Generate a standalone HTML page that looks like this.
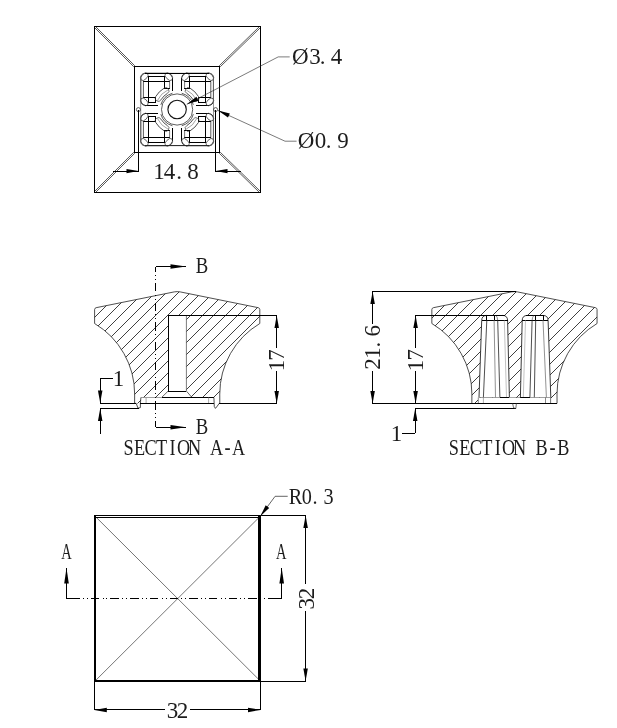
<!DOCTYPE html>
<html lang="en"><head><meta charset="utf-8"><title>Knob drawing</title>
<style>html,body{margin:0;padding:0;background:#fff;overflow:hidden}svg{display:block;will-change:transform}</style></head>
<body>
<svg width="617" height="728" viewBox="0 0 617 728" font-family="'Liberation Serif', serif" fill="#000">
<rect width="617" height="728" fill="#fff"/>
<g id="topview">
<rect x="94.5" y="26.5" width="166" height="166" fill="none" stroke="#000" stroke-width="1" shape-rendering="crispEdges"/>
<rect x="134.5" y="66.5" width="85" height="86" fill="none" stroke="#000" stroke-width="1" shape-rendering="crispEdges"/>
<line x1="96" y1="27" x2="134.8" y2="65.8" stroke="#111" stroke-width="0.7"/>
<line x1="95" y1="28" x2="133.8" y2="66.8" stroke="#111" stroke-width="0.7"/>
<line x1="259" y1="27" x2="219.2" y2="65.8" stroke="#111" stroke-width="0.7"/>
<line x1="260" y1="28" x2="220.2" y2="66.8" stroke="#111" stroke-width="0.7"/>
<line x1="96" y1="192" x2="134.8" y2="153.2" stroke="#111" stroke-width="0.7"/>
<line x1="95" y1="191" x2="133.8" y2="152.2" stroke="#111" stroke-width="0.7"/>
<line x1="259" y1="192" x2="219.2" y2="153.2" stroke="#111" stroke-width="0.7"/>
<line x1="260" y1="191" x2="220.2" y2="152.2" stroke="#111" stroke-width="0.7"/>
<g transform="translate(177.1,109.5) scale(1,1) translate(-177.1,-109.5)">
<path d="M172.3,77.6 A4.3,4.3 0 0 0 168,73.3 L145.1,73.3 A4.3,4.3 0 0 0 140.8,77.6 L140.8,101 A4.3,4.3 0 0 0 145.1,105.3" stroke="#222" stroke-width="0.85" fill="none"/>
<line x1="172.3" y1="77.6" x2="172.3" y2="90.8" stroke="#000" stroke-width="1.1" shape-rendering="crispEdges"/>
<line x1="145.1" y1="105.3" x2="157.8" y2="105.3" stroke="#000" stroke-width="1.1" shape-rendering="crispEdges"/>
<line x1="148.5" y1="76.4" x2="148.5" y2="102.4" stroke="#000" stroke-width="1.0" shape-rendering="crispEdges"/>
<line x1="148" y1="76.4" x2="165" y2="76.4" stroke="#000" stroke-width="1.0" shape-rendering="crispEdges"/>
<line x1="164.5" y1="76.4" x2="164.5" y2="88.3" stroke="#000" stroke-width="1.0" shape-rendering="crispEdges"/>
<line x1="164" y1="88.3" x2="170" y2="88.3" stroke="#000" stroke-width="1.0" shape-rendering="crispEdges"/>
<line x1="148" y1="102.4" x2="156" y2="102.4" stroke="#000" stroke-width="1.0" shape-rendering="crispEdges"/>
<line x1="155.5" y1="97.6" x2="155.5" y2="102.4" stroke="#000" stroke-width="1.0" shape-rendering="crispEdges"/>
<line x1="143" y1="81.4" x2="170" y2="81.4" stroke="#000" stroke-width="1.0" shape-rendering="crispEdges"/>
<line x1="143" y1="97.6" x2="156" y2="97.6" stroke="#000" stroke-width="1.0" shape-rendering="crispEdges"/>
<line x1="143.4" y1="81.4" x2="143.4" y2="97.6" stroke="#333" stroke-width="0.8"/>
<line x1="169.6" y1="81.4" x2="169.6" y2="88.3" stroke="#555" stroke-width="0.8"/>
<ellipse cx="144.3" cy="76.7" rx="4.6" ry="2.7" transform="rotate(-45 144.3 76.7)" fill="none" stroke="#333" stroke-width="0.7"/>
<ellipse cx="168.8" cy="76.7" rx="4.6" ry="2.7" transform="rotate(45 168.8 76.7)" fill="none" stroke="#333" stroke-width="0.7"/>
<ellipse cx="144.3" cy="101.9" rx="4.6" ry="2.7" transform="rotate(45 144.3 101.9)" fill="none" stroke="#333" stroke-width="0.7"/>
<path d="M155.67,96.62 A25.0,25.0 0 0 1 164.22,88.07" stroke="#222" stroke-width="0.8" fill="none"/>
<path d="M160.99,99.82 A18.8,18.8 0 0 1 167.42,93.39" stroke="#222" stroke-width="0.8" fill="none"/>
<path d="M157.52,100.37 A21.6,21.6 0 0 1 167.97,89.92" stroke="#666" stroke-width="0.6" fill="none"/>
<path d="M160.85,104.84 A16.9,16.9 0 0 1 172.44,93.25" stroke="#333" stroke-width="0.8" fill="none"/>
<path d="M155.67,96.62 A3.1,3.1 0 0 0 160.99,99.82" stroke="#333" stroke-width="0.7" fill="none"/>
<path d="M164.22,88.07 A3.1,3.1 0 0 1 167.42,93.39" stroke="#333" stroke-width="0.7" fill="none"/>
</g>
<g transform="translate(177.1,109.5) scale(-1,1) translate(-177.1,-109.5)">
<path d="M172.3,77.6 A4.3,4.3 0 0 0 168,73.3 L145.1,73.3 A4.3,4.3 0 0 0 140.8,77.6 L140.8,101 A4.3,4.3 0 0 0 145.1,105.3" stroke="#222" stroke-width="0.85" fill="none"/>
<line x1="172.3" y1="77.6" x2="172.3" y2="90.8" stroke="#000" stroke-width="1.1" shape-rendering="crispEdges"/>
<line x1="145.1" y1="105.3" x2="157.8" y2="105.3" stroke="#000" stroke-width="1.1" shape-rendering="crispEdges"/>
<line x1="148.5" y1="76.4" x2="148.5" y2="102.4" stroke="#000" stroke-width="1.0" shape-rendering="crispEdges"/>
<line x1="148" y1="76.4" x2="165" y2="76.4" stroke="#000" stroke-width="1.0" shape-rendering="crispEdges"/>
<line x1="164.5" y1="76.4" x2="164.5" y2="88.3" stroke="#000" stroke-width="1.0" shape-rendering="crispEdges"/>
<line x1="164" y1="88.3" x2="170" y2="88.3" stroke="#000" stroke-width="1.0" shape-rendering="crispEdges"/>
<line x1="148" y1="102.4" x2="156" y2="102.4" stroke="#000" stroke-width="1.0" shape-rendering="crispEdges"/>
<line x1="155.5" y1="97.6" x2="155.5" y2="102.4" stroke="#000" stroke-width="1.0" shape-rendering="crispEdges"/>
<line x1="143" y1="81.4" x2="170" y2="81.4" stroke="#000" stroke-width="1.0" shape-rendering="crispEdges"/>
<line x1="143" y1="97.6" x2="156" y2="97.6" stroke="#000" stroke-width="1.0" shape-rendering="crispEdges"/>
<line x1="143.4" y1="81.4" x2="143.4" y2="97.6" stroke="#333" stroke-width="0.8"/>
<line x1="169.6" y1="81.4" x2="169.6" y2="88.3" stroke="#555" stroke-width="0.8"/>
<ellipse cx="144.3" cy="76.7" rx="4.6" ry="2.7" transform="rotate(-45 144.3 76.7)" fill="none" stroke="#333" stroke-width="0.7"/>
<ellipse cx="168.8" cy="76.7" rx="4.6" ry="2.7" transform="rotate(45 168.8 76.7)" fill="none" stroke="#333" stroke-width="0.7"/>
<ellipse cx="144.3" cy="101.9" rx="4.6" ry="2.7" transform="rotate(45 144.3 101.9)" fill="none" stroke="#333" stroke-width="0.7"/>
<path d="M155.67,96.62 A25.0,25.0 0 0 1 164.22,88.07" stroke="#222" stroke-width="0.8" fill="none"/>
<path d="M160.99,99.82 A18.8,18.8 0 0 1 167.42,93.39" stroke="#222" stroke-width="0.8" fill="none"/>
<path d="M157.52,100.37 A21.6,21.6 0 0 1 167.97,89.92" stroke="#666" stroke-width="0.6" fill="none"/>
<path d="M160.85,104.84 A16.9,16.9 0 0 1 172.44,93.25" stroke="#333" stroke-width="0.8" fill="none"/>
<path d="M155.67,96.62 A3.1,3.1 0 0 0 160.99,99.82" stroke="#333" stroke-width="0.7" fill="none"/>
<path d="M164.22,88.07 A3.1,3.1 0 0 1 167.42,93.39" stroke="#333" stroke-width="0.7" fill="none"/>
</g>
<g transform="translate(177.1,109.5) scale(1,-1) translate(-177.1,-109.5)">
<path d="M172.3,77.6 A4.3,4.3 0 0 0 168,73.3 L145.1,73.3 A4.3,4.3 0 0 0 140.8,77.6 L140.8,101 A4.3,4.3 0 0 0 145.1,105.3" stroke="#222" stroke-width="0.85" fill="none"/>
<line x1="172.3" y1="77.6" x2="172.3" y2="90.8" stroke="#000" stroke-width="1.1" shape-rendering="crispEdges"/>
<line x1="145.1" y1="105.3" x2="157.8" y2="105.3" stroke="#000" stroke-width="1.1" shape-rendering="crispEdges"/>
<line x1="148.5" y1="76.4" x2="148.5" y2="102.4" stroke="#000" stroke-width="1.0" shape-rendering="crispEdges"/>
<line x1="148" y1="76.4" x2="165" y2="76.4" stroke="#000" stroke-width="1.0" shape-rendering="crispEdges"/>
<line x1="164.5" y1="76.4" x2="164.5" y2="88.3" stroke="#000" stroke-width="1.0" shape-rendering="crispEdges"/>
<line x1="164" y1="88.3" x2="170" y2="88.3" stroke="#000" stroke-width="1.0" shape-rendering="crispEdges"/>
<line x1="148" y1="102.4" x2="156" y2="102.4" stroke="#000" stroke-width="1.0" shape-rendering="crispEdges"/>
<line x1="155.5" y1="97.6" x2="155.5" y2="102.4" stroke="#000" stroke-width="1.0" shape-rendering="crispEdges"/>
<line x1="143" y1="81.4" x2="170" y2="81.4" stroke="#000" stroke-width="1.0" shape-rendering="crispEdges"/>
<line x1="143" y1="97.6" x2="156" y2="97.6" stroke="#000" stroke-width="1.0" shape-rendering="crispEdges"/>
<line x1="143.4" y1="81.4" x2="143.4" y2="97.6" stroke="#333" stroke-width="0.8"/>
<line x1="169.6" y1="81.4" x2="169.6" y2="88.3" stroke="#555" stroke-width="0.8"/>
<ellipse cx="144.3" cy="76.7" rx="4.6" ry="2.7" transform="rotate(-45 144.3 76.7)" fill="none" stroke="#333" stroke-width="0.7"/>
<ellipse cx="168.8" cy="76.7" rx="4.6" ry="2.7" transform="rotate(45 168.8 76.7)" fill="none" stroke="#333" stroke-width="0.7"/>
<ellipse cx="144.3" cy="101.9" rx="4.6" ry="2.7" transform="rotate(45 144.3 101.9)" fill="none" stroke="#333" stroke-width="0.7"/>
<path d="M155.67,96.62 A25.0,25.0 0 0 1 164.22,88.07" stroke="#222" stroke-width="0.8" fill="none"/>
<path d="M160.99,99.82 A18.8,18.8 0 0 1 167.42,93.39" stroke="#222" stroke-width="0.8" fill="none"/>
<path d="M157.52,100.37 A21.6,21.6 0 0 1 167.97,89.92" stroke="#666" stroke-width="0.6" fill="none"/>
<path d="M160.85,104.84 A16.9,16.9 0 0 1 172.44,93.25" stroke="#333" stroke-width="0.8" fill="none"/>
<path d="M155.67,96.62 A3.1,3.1 0 0 0 160.99,99.82" stroke="#333" stroke-width="0.7" fill="none"/>
<path d="M164.22,88.07 A3.1,3.1 0 0 1 167.42,93.39" stroke="#333" stroke-width="0.7" fill="none"/>
</g>
<g transform="translate(177.1,109.5) scale(-1,-1) translate(-177.1,-109.5)">
<path d="M172.3,77.6 A4.3,4.3 0 0 0 168,73.3 L145.1,73.3 A4.3,4.3 0 0 0 140.8,77.6 L140.8,101 A4.3,4.3 0 0 0 145.1,105.3" stroke="#222" stroke-width="0.85" fill="none"/>
<line x1="172.3" y1="77.6" x2="172.3" y2="90.8" stroke="#000" stroke-width="1.1" shape-rendering="crispEdges"/>
<line x1="145.1" y1="105.3" x2="157.8" y2="105.3" stroke="#000" stroke-width="1.1" shape-rendering="crispEdges"/>
<line x1="148.5" y1="76.4" x2="148.5" y2="102.4" stroke="#000" stroke-width="1.0" shape-rendering="crispEdges"/>
<line x1="148" y1="76.4" x2="165" y2="76.4" stroke="#000" stroke-width="1.0" shape-rendering="crispEdges"/>
<line x1="164.5" y1="76.4" x2="164.5" y2="88.3" stroke="#000" stroke-width="1.0" shape-rendering="crispEdges"/>
<line x1="164" y1="88.3" x2="170" y2="88.3" stroke="#000" stroke-width="1.0" shape-rendering="crispEdges"/>
<line x1="148" y1="102.4" x2="156" y2="102.4" stroke="#000" stroke-width="1.0" shape-rendering="crispEdges"/>
<line x1="155.5" y1="97.6" x2="155.5" y2="102.4" stroke="#000" stroke-width="1.0" shape-rendering="crispEdges"/>
<line x1="143" y1="81.4" x2="170" y2="81.4" stroke="#000" stroke-width="1.0" shape-rendering="crispEdges"/>
<line x1="143" y1="97.6" x2="156" y2="97.6" stroke="#000" stroke-width="1.0" shape-rendering="crispEdges"/>
<line x1="143.4" y1="81.4" x2="143.4" y2="97.6" stroke="#333" stroke-width="0.8"/>
<line x1="169.6" y1="81.4" x2="169.6" y2="88.3" stroke="#555" stroke-width="0.8"/>
<ellipse cx="144.3" cy="76.7" rx="4.6" ry="2.7" transform="rotate(-45 144.3 76.7)" fill="none" stroke="#333" stroke-width="0.7"/>
<ellipse cx="168.8" cy="76.7" rx="4.6" ry="2.7" transform="rotate(45 168.8 76.7)" fill="none" stroke="#333" stroke-width="0.7"/>
<ellipse cx="144.3" cy="101.9" rx="4.6" ry="2.7" transform="rotate(45 144.3 101.9)" fill="none" stroke="#333" stroke-width="0.7"/>
<path d="M155.67,96.62 A25.0,25.0 0 0 1 164.22,88.07" stroke="#222" stroke-width="0.8" fill="none"/>
<path d="M160.99,99.82 A18.8,18.8 0 0 1 167.42,93.39" stroke="#222" stroke-width="0.8" fill="none"/>
<path d="M157.52,100.37 A21.6,21.6 0 0 1 167.97,89.92" stroke="#666" stroke-width="0.6" fill="none"/>
<path d="M160.85,104.84 A16.9,16.9 0 0 1 172.44,93.25" stroke="#333" stroke-width="0.8" fill="none"/>
<path d="M155.67,96.62 A3.1,3.1 0 0 0 160.99,99.82" stroke="#333" stroke-width="0.7" fill="none"/>
<path d="M164.22,88.07 A3.1,3.1 0 0 1 167.42,93.39" stroke="#333" stroke-width="0.7" fill="none"/>
</g>
<rect x="140.7" y="73.3" width="72.8" height="72.4" rx="4.3" fill="none" stroke="#666" stroke-width="0.7"/>
<line x1="145" y1="73.3" x2="209.2" y2="73.3" stroke="#000" stroke-width="1.1" shape-rendering="crispEdges"/>
<line x1="145" y1="145.7" x2="209.2" y2="145.7" stroke="#222" stroke-width="0.9" shape-rendering="crispEdges"/>
<circle cx="177.1" cy="109.5" r="15.6" stroke="#333" stroke-width="0.8" fill="none"/>
<circle cx="177.1" cy="109.5" r="9.2" stroke="#111" stroke-width="1.1" fill="none"/>
<circle cx="138.4" cy="109.6" r="2" stroke="#222" stroke-width="0.7" fill="none"/>
<circle cx="215.6" cy="109.6" r="2" stroke="#222" stroke-width="0.7" fill="none"/>
<line x1="138.5" y1="110" x2="138.5" y2="171.6" stroke="#000" stroke-width="1.0" shape-rendering="crispEdges"/>
<line x1="215.5" y1="110" x2="215.5" y2="171.6" stroke="#000" stroke-width="1.0" shape-rendering="crispEdges"/>
<line x1="113.4" y1="171.1" x2="138.5" y2="171.1" stroke="#000" stroke-width="1.0" shape-rendering="crispEdges"/>
<polygon points="138.5,171.1 126.5,173.3 126.5,168.9" fill="#000"/>
<line x1="215.5" y1="171.1" x2="240.6" y2="171.1" stroke="#000" stroke-width="1.0" shape-rendering="crispEdges"/>
<polygon points="215.5,171.1 227.5,168.9 227.5,173.3" fill="#000"/>
<text transform="scale(1.0,1)" x="159 169.4 179.1 193.1" y="178.7" font-size="23" text-anchor="middle" fill="#1c1c1c">14.8</text>
<line x1="186.8" y1="104.3" x2="278.2" y2="56.9" stroke="#222" stroke-width="0.6"/>
<line x1="278.2" y1="56.9" x2="289.7" y2="56.9" stroke="#222" stroke-width="0.6"/>
<polygon points="186.8,104.3 196.44,96.82 198.47,100.73" fill="#000"/>
<text transform="scale(1.0,1)" x="300.4 315 322.5 336.5" y="64.4" font-size="23" text-anchor="middle" fill="#1c1c1c">Ø3.4</text>
<line x1="218" y1="110.5" x2="285" y2="141.2" stroke="#222" stroke-width="0.6"/>
<line x1="285" y1="141.2" x2="296.6" y2="141.2" stroke="#222" stroke-width="0.6"/>
<polygon points="218,110.5 229.83,113.5 227.99,117.5" fill="#000"/>
<text transform="scale(1.0,1)" x="306.1 320.5 328.5 342.9" y="148.3" font-size="23" text-anchor="middle" fill="#1c1c1c">Ø0.9</text>
</g>
<g id="secAA">
<clipPath id="cA"><path d="M134.6,403.4 L134.65,394 A82.35,82.35 0 0 0 94.6,323.5 L94.6,309.5 Q94.6,308.2 96.1,307.7 L174.2,291.9 Q177.2,291.3 180.2,291.9 L258.3,307.7 Q259.8,308.2 259.8,309.5 L259.8,323.5 A82.35,82.35 0 0 0 219.75,394 L219.8,403.4 Z"/></clipPath>
<g clip-path="url(#cA)" stroke="#000" stroke-width="0.75">
<line x1="-33" y1="410" x2="89" y2="288"/>
<line x1="-21" y1="410" x2="101" y2="288"/>
<line x1="-9" y1="410" x2="113" y2="288"/>
<line x1="2" y1="410" x2="124" y2="288"/>
<line x1="14" y1="410" x2="136" y2="288"/>
<line x1="26" y1="410" x2="148" y2="288"/>
<line x1="38" y1="410" x2="160" y2="288"/>
<line x1="49" y1="410" x2="171" y2="288"/>
<line x1="61" y1="410" x2="183" y2="288"/>
<line x1="73" y1="410" x2="195" y2="288"/>
<line x1="84" y1="410" x2="206" y2="288"/>
<line x1="96" y1="410" x2="218" y2="288"/>
<line x1="108" y1="410" x2="230" y2="288"/>
<line x1="119" y1="410" x2="241" y2="288"/>
<line x1="131" y1="410" x2="253" y2="288"/>
<line x1="143" y1="410" x2="265" y2="288"/>
<line x1="155" y1="410" x2="277" y2="288"/>
<line x1="166" y1="410" x2="288" y2="288"/>
<line x1="178" y1="410" x2="300" y2="288"/>
<line x1="190" y1="410" x2="312" y2="288"/>
<line x1="201" y1="410" x2="323" y2="288"/>
<line x1="213" y1="410" x2="335" y2="288"/>
<line x1="225" y1="410" x2="347" y2="288"/>
<line x1="237" y1="410" x2="359" y2="288"/>
<line x1="248" y1="410" x2="370" y2="288"/>
<line x1="260" y1="410" x2="382" y2="288"/>
<line x1="272" y1="410" x2="394" y2="288"/>
</g>
<path d="M168.1,315.6 L186.4,315.6 L186.4,391.1 L192,397.5 L214,397.5 L214,403.4 L140.6,403.4 L140.9,397.5 L161.6,397.5 L168.1,391.1 Z" fill="#fff" stroke="none"/>
<path d="M134.6,403.4 L134.65,394 A82.35,82.35 0 0 0 94.6,323.5 L94.6,309.5 Q94.6,308.2 96.1,307.7 L174.2,291.9 Q177.2,291.3 180.2,291.9 L258.3,307.7 Q259.8,308.2 259.8,309.5 L259.8,323.5 A82.35,82.35 0 0 0 219.75,394 L219.8,403.4" stroke="#222" stroke-width="0.8" fill="none"/>
<line x1="168.1" y1="315.6" x2="168.1" y2="391.1" stroke="#000" stroke-width="1.1" shape-rendering="crispEdges"/>
<line x1="186.4" y1="315.6" x2="186.4" y2="391.1" stroke="#444" stroke-width="0.7"/>
<line x1="168.1" y1="391.1" x2="186.4" y2="391.1" stroke="#000" stroke-width="1.1" shape-rendering="crispEdges"/>
<line x1="168.1" y1="391.1" x2="161.6" y2="397.5" stroke="#222" stroke-width="0.7"/>
<line x1="186.4" y1="391.1" x2="192" y2="397.5" stroke="#222" stroke-width="0.7"/>
<line x1="140.9" y1="397.5" x2="161.6" y2="397.5" stroke="#777" stroke-width="0.7"/>
<line x1="161.6" y1="397.5" x2="214" y2="397.5" stroke="#000" stroke-width="1.1" shape-rendering="crispEdges"/>
<line x1="146.1" y1="397.5" x2="146.1" y2="403.4" stroke="#888" stroke-width="0.7"/>
<line x1="208.6" y1="397.5" x2="208.6" y2="403.4" stroke="#888" stroke-width="0.7"/>
<path d="M134.6,403.3 L136.2,403.4 L138,408.2 L140.4,407.6 L140.4,403.4 L140.9,397.5" stroke="#222" stroke-width="0.8" fill="none"/>
<path d="M213.9,397.5 L214.3,406.5 L215.4,408.4 L216.6,407 L219.3,403.3" stroke="#222" stroke-width="0.8" fill="none"/>
<line x1="99.5" y1="403.4" x2="136.2" y2="403.4" stroke="#000" stroke-width="1.1" shape-rendering="crispEdges"/>
<line x1="140.4" y1="403.4" x2="213.9" y2="403.4" stroke="#000" stroke-width="1.1" shape-rendering="crispEdges"/>
<line x1="219.3" y1="403.4" x2="277.2" y2="403.4" stroke="#000" stroke-width="1.1" shape-rendering="crispEdges"/>
<line x1="99.5" y1="408.3" x2="139" y2="408.3" stroke="#000" stroke-width="1.1" shape-rendering="crispEdges"/>
<line x1="168.1" y1="315.6" x2="277.2" y2="315.6" stroke="#000" stroke-width="1.1" shape-rendering="crispEdges"/>
<line x1="276.7" y1="315.6" x2="276.7" y2="347.5" stroke="#000" stroke-width="1.0" shape-rendering="crispEdges"/>
<line x1="276.7" y1="371" x2="276.7" y2="403.4" stroke="#000" stroke-width="1.0" shape-rendering="crispEdges"/>
<polygon points="276.7,315.6 278.95,328.1 274.45,328.1" fill="#000"/>
<polygon points="276.7,403.4 274.45,390.9 278.95,390.9" fill="#000"/>
<text transform="translate(284.3,0) rotate(-90) scale(1.0,1)" x="-365.6 -354.9" y="0" font-size="23" text-anchor="middle" fill="#1c1c1c">17</text>
<line x1="100.2" y1="378.7" x2="112.5" y2="378.7" stroke="#000" stroke-width="1.0" shape-rendering="crispEdges"/>
<line x1="100.2" y1="378.7" x2="100.2" y2="403.4" stroke="#000" stroke-width="1.0" shape-rendering="crispEdges"/>
<polygon points="100.2,403 97.95,390.5 102.45,390.5" fill="#000"/>
<line x1="100.2" y1="408.5" x2="100.2" y2="434" stroke="#000" stroke-width="1.0" shape-rendering="crispEdges"/>
<polygon points="100.2,408.6 102.45,421.1 97.95,421.1" fill="#000"/>
<text transform="scale(1.0,1)" x="118.4" y="386.1" font-size="23" text-anchor="middle" fill="#1c1c1c">1</text>
<line x1="155.5" y1="266.5" x2="155.5" y2="427.2" stroke="#000" stroke-width="1.0" stroke-dasharray="8.5 3.3 1 2.9 1 3" stroke-dashoffset="3.4" shape-rendering="crispEdges"/>
<line x1="155.5" y1="266.5" x2="186" y2="266.5" stroke="#000" stroke-width="1.0" shape-rendering="crispEdges"/>
<polygon points="186,266.5 170.5,268.8 170.5,264.2" fill="#000"/>
<line x1="155.5" y1="427.2" x2="186" y2="427.2" stroke="#000" stroke-width="1.0" shape-rendering="crispEdges"/>
<polygon points="186,427.2 170.5,429.5 170.5,424.9" fill="#000"/>
<text transform="scale(0.8,1)" x="252.38" y="273.1" font-size="23.4" text-anchor="middle" fill="#1c1c1c">B</text>
<text transform="scale(0.8,1)" x="252.38" y="434.3" font-size="23.4" text-anchor="middle" fill="#1c1c1c">B</text>
<text transform="scale(0.78,1)" x="164.87 178.97 193.08 207.18 221.28 235.38 249.49 263.59 277.69 291.79 305.9" y="454.9" font-size="23.4" text-anchor="middle" fill="#1c1c1c">SECTION A-A</text>
</g>
<g id="secBB">
<clipPath id="cB"><path d="M471.85,403.4 L471.9,394 A82.35,82.35 0 0 0 431.85,323.5 L431.85,309.5 Q431.85,308.2 433.35,307.7 L511.45,291.9 Q514.45,291.3 517.45,291.9 L595.55,307.7 Q597.05,308.2 597.05,309.5 L597.05,323.5 A82.35,82.35 0 0 0 557,394 L557.05,403.4 Z"/></clipPath>
<g clip-path="url(#cB)" stroke="#000" stroke-width="0.75">
<line x1="304" y1="410" x2="426" y2="288"/>
<line x1="316" y1="410" x2="438" y2="288"/>
<line x1="328" y1="410" x2="450" y2="288"/>
<line x1="340" y1="410" x2="462" y2="288"/>
<line x1="351" y1="410" x2="473" y2="288"/>
<line x1="363" y1="410" x2="485" y2="288"/>
<line x1="375" y1="410" x2="497" y2="288"/>
<line x1="386" y1="410" x2="508" y2="288"/>
<line x1="398" y1="410" x2="520" y2="288"/>
<line x1="410" y1="410" x2="532" y2="288"/>
<line x1="422" y1="410" x2="544" y2="288"/>
<line x1="433" y1="410" x2="555" y2="288"/>
<line x1="445" y1="410" x2="567" y2="288"/>
<line x1="457" y1="410" x2="579" y2="288"/>
<line x1="468" y1="410" x2="590" y2="288"/>
<line x1="480" y1="410" x2="602" y2="288"/>
<line x1="492" y1="410" x2="614" y2="288"/>
<line x1="504" y1="410" x2="626" y2="288"/>
<line x1="515" y1="410" x2="637" y2="288"/>
<line x1="527" y1="410" x2="649" y2="288"/>
<line x1="539" y1="410" x2="661" y2="288"/>
<line x1="550" y1="410" x2="672" y2="288"/>
<line x1="562" y1="410" x2="684" y2="288"/>
<line x1="574" y1="410" x2="696" y2="288"/>
<line x1="586" y1="410" x2="708" y2="288"/>
<line x1="597" y1="410" x2="719" y2="288"/>
<line x1="609" y1="410" x2="731" y2="288"/>
</g>
<path d="M479,397.5 L481.7,320.6 Q481.7,315.4 486.9,315.4 L502.4,315.4 Q507.6,315.4 507.6,320.6 L509.4,397.5 Z" fill="#fff" stroke="none"/>
<path d="M479,397.5 L481.7,320.6 Q481.7,315.4 486.9,315.4" stroke="#222" stroke-width="0.9" fill="none"/>
<path d="M502.4,315.4 Q507.6,315.4 507.6,320.6 L509.4,397.5" stroke="#222" stroke-width="0.9" fill="none"/>
<line x1="485.9" y1="315.4" x2="503.4" y2="315.4" stroke="#000" stroke-width="1.1" shape-rendering="crispEdges"/>
<line x1="481.7" y1="320.2" x2="507.6" y2="320.2" stroke="#000" stroke-width="1.1" shape-rendering="crispEdges"/>
<line x1="486.8" y1="315.4" x2="486.8" y2="320.2" stroke="#000" stroke-width="1.0" shape-rendering="crispEdges"/>
<line x1="494.1" y1="315.4" x2="494.1" y2="320.2" stroke="#000" stroke-width="1.0" shape-rendering="crispEdges"/>
<path d="M496,315.4 Q497.6,317.4 497.7,320.2" stroke="#444" stroke-width="0.6" fill="none"/>
<line x1="486.8" y1="320.2" x2="483.4" y2="397.5" stroke="#222" stroke-width="0.8"/>
<line x1="494.1" y1="320.2" x2="495.5" y2="397.5" stroke="#777" stroke-width="0.8"/>
<line x1="497.7" y1="320.2" x2="499.9" y2="397.5" stroke="#222" stroke-width="0.8"/>
<line x1="504.3" y1="320.2" x2="506.5" y2="397.5" stroke="#999" stroke-width="0.6"/>
<line x1="499.9" y1="397.5" x2="509.4" y2="397.5" stroke="#000" stroke-width="1.1" shape-rendering="crispEdges"/>
<line x1="479" y1="397.5" x2="499.9" y2="397.5" stroke="#777" stroke-width="0.7"/>
<path d="M550.8,397.5 L548.1,320.6 Q548.1,315.4 542.9,315.4 L527.4,315.4 Q522.2,315.4 522.2,320.6 L520.4,397.5 Z" fill="#fff" stroke="none"/>
<path d="M550.8,397.5 L548.1,320.6 Q548.1,315.4 542.9,315.4" stroke="#222" stroke-width="0.9" fill="none"/>
<path d="M527.4,315.4 Q522.2,315.4 522.2,320.6 L520.4,397.5" stroke="#222" stroke-width="0.9" fill="none"/>
<line x1="543.9" y1="315.4" x2="526.4" y2="315.4" stroke="#000" stroke-width="1.1" shape-rendering="crispEdges"/>
<line x1="548.1" y1="320.2" x2="522.2" y2="320.2" stroke="#000" stroke-width="1.1" shape-rendering="crispEdges"/>
<line x1="543" y1="315.4" x2="543" y2="320.2" stroke="#000" stroke-width="1.0" shape-rendering="crispEdges"/>
<line x1="535.7" y1="315.4" x2="535.7" y2="320.2" stroke="#000" stroke-width="1.0" shape-rendering="crispEdges"/>
<path d="M533.8,315.4 Q532.2,317.4 532.1,320.2" stroke="#444" stroke-width="0.6" fill="none"/>
<line x1="543" y1="320.2" x2="546.4" y2="397.5" stroke="#777" stroke-width="0.8"/>
<line x1="535.7" y1="320.2" x2="534.3" y2="397.5" stroke="#222" stroke-width="0.8"/>
<line x1="532.1" y1="320.2" x2="529.9" y2="397.5" stroke="#222" stroke-width="0.8"/>
<line x1="525.5" y1="320.2" x2="523.3" y2="397.5" stroke="#999" stroke-width="0.6"/>
<line x1="529.9" y1="397.5" x2="520.4" y2="397.5" stroke="#000" stroke-width="1.1" shape-rendering="crispEdges"/>
<line x1="550.8" y1="397.5" x2="529.9" y2="397.5" stroke="#777" stroke-width="0.7"/>
<rect x="478.2" y="398" width="72.5" height="5.4" fill="#fff" shape-rendering="crispEdges"/>
<path d="M471.85,403.4 L471.9,394 A82.35,82.35 0 0 0 431.85,323.5 L431.85,309.5 Q431.85,308.2 433.35,307.7 L511.45,291.9 Q514.45,291.3 517.45,291.9 L595.55,307.7 Q597.05,308.2 597.05,309.5 L597.05,323.5 A82.35,82.35 0 0 0 557,394 L557.05,403.4" stroke="#222" stroke-width="0.8" fill="none"/>
<line x1="509.4" y1="397.5" x2="520.4" y2="397.5" stroke="#666" stroke-width="0.6"/>
<line x1="478.3" y1="397.5" x2="478.3" y2="403.4" stroke="#555" stroke-width="0.7"/>
<line x1="483.4" y1="397.5" x2="483.4" y2="403.4" stroke="#777" stroke-width="0.6"/>
<line x1="550.6" y1="397.5" x2="550.6" y2="403.4" stroke="#333" stroke-width="0.7"/>
<line x1="545.5" y1="397.5" x2="545.5" y2="403.4" stroke="#555" stroke-width="0.7"/>
<line x1="372.4" y1="403.5" x2="556.9" y2="403.5" stroke="#000" stroke-width="1.1" shape-rendering="crispEdges"/>
<line x1="415.2" y1="408.6" x2="515.8" y2="408.6" stroke="#000" stroke-width="1.1" shape-rendering="crispEdges"/>
<path d="M512.6,403.5 L513.6,407.8 L515.8,408.6 L516.4,403.5" stroke="#333" stroke-width="0.7" fill="none"/>
<line x1="372.4" y1="291.4" x2="515.5" y2="291.4" stroke="#000" stroke-width="1.1" shape-rendering="crispEdges"/>
<line x1="415.4" y1="315.4" x2="504.7" y2="315.4" stroke="#000" stroke-width="1.1" shape-rendering="crispEdges"/>
<line x1="372.6" y1="291.4" x2="372.6" y2="323.5" stroke="#000" stroke-width="1.0" shape-rendering="crispEdges"/>
<line x1="372.6" y1="370.5" x2="372.6" y2="403.5" stroke="#000" stroke-width="1.0" shape-rendering="crispEdges"/>
<polygon points="372.6,291.4 374.85,303.9 370.35,303.9" fill="#000"/>
<polygon points="372.6,403.5 370.35,391 374.85,391" fill="#000"/>
<text transform="translate(380.2,0) rotate(-90) scale(1.0,1)" x="-363.9 -353 -344.7 -330.8" y="0" font-size="23" text-anchor="middle" fill="#1c1c1c">21.6</text>
<line x1="415.6" y1="315.4" x2="415.6" y2="347.5" stroke="#000" stroke-width="1.0" shape-rendering="crispEdges"/>
<line x1="415.6" y1="371" x2="415.6" y2="403.5" stroke="#000" stroke-width="1.0" shape-rendering="crispEdges"/>
<polygon points="415.6,315.4 417.85,327.9 413.35,327.9" fill="#000"/>
<polygon points="415.6,403.5 413.35,391 417.85,391" fill="#000"/>
<text transform="translate(423,0) rotate(-90) scale(1.0,1)" x="-365.4 -354.7" y="0" font-size="23" text-anchor="middle" fill="#1c1c1c">17</text>
<line x1="415.2" y1="408.6" x2="415.2" y2="433" stroke="#000" stroke-width="1.0" shape-rendering="crispEdges"/>
<polygon points="415.2,408.6 417.45,421.1 412.95,421.1" fill="#000"/>
<line x1="402.3" y1="433" x2="415.2" y2="433" stroke="#000" stroke-width="1.0" shape-rendering="crispEdges"/>
<text transform="scale(1.0,1)" x="396.6" y="440.8" font-size="23" text-anchor="middle" fill="#1c1c1c">1</text>
<text transform="scale(0.78,1)" x="581.92 595.96 610 624.04 638.08 652.12 666.15 680.19 694.23 708.27 722.31" y="454.8" font-size="23.4" text-anchor="middle" fill="#1c1c1c">SECTION B-B</text>
</g>
<g id="botview">
<line x1="95.4" y1="516.5" x2="260" y2="680.7" stroke="#666" stroke-width="0.9"/>
<line x1="260" y1="516.5" x2="95.4" y2="680.7" stroke="#666" stroke-width="0.9"/>
<line x1="95.4" y1="515.7" x2="260" y2="515.7" stroke="#000" stroke-width="1.0" shape-rendering="crispEdges"/>
<line x1="95.4" y1="517.7" x2="260" y2="517.7" stroke="#000" stroke-width="1.0" shape-rendering="crispEdges"/>
<line x1="95.4" y1="515.3" x2="95.4" y2="681.7" stroke="#000" stroke-width="2.0" shape-rendering="crispEdges"/>
<line x1="259.7" y1="515.3" x2="259.7" y2="681.7" stroke="#000" stroke-width="3.0" shape-rendering="crispEdges"/>
<line x1="94.4" y1="680.7" x2="261" y2="680.7" stroke="#000" stroke-width="2.0" shape-rendering="crispEdges"/>
<line x1="260" y1="515.5" x2="306.2" y2="515.5" stroke="#000" stroke-width="1.0" shape-rendering="crispEdges"/>
<line x1="260" y1="681.5" x2="306.2" y2="681.5" stroke="#000" stroke-width="1.0" shape-rendering="crispEdges"/>
<line x1="305.6" y1="515.5" x2="305.6" y2="583.5" stroke="#000" stroke-width="1.0" shape-rendering="crispEdges"/>
<line x1="305.6" y1="611" x2="305.6" y2="681" stroke="#000" stroke-width="1.0" shape-rendering="crispEdges"/>
<polygon points="305.6,515.6 307.85,528.1 303.35,528.1" fill="#000"/>
<polygon points="305.6,681 303.35,668.5 307.85,668.5" fill="#000"/>
<text transform="translate(313.7,0) rotate(-90) scale(1.0,1)" x="-603.8 -593.4" y="0" font-size="23" text-anchor="middle" fill="#1c1c1c">32</text>
<line x1="94.5" y1="681" x2="94.5" y2="710.4" stroke="#000" stroke-width="1.0" shape-rendering="crispEdges"/>
<line x1="260.5" y1="681" x2="260.5" y2="710.4" stroke="#000" stroke-width="1.0" shape-rendering="crispEdges"/>
<line x1="94.5" y1="709.9" x2="165.2" y2="709.9" stroke="#000" stroke-width="1.0" shape-rendering="crispEdges"/>
<line x1="190" y1="709.9" x2="260.5" y2="709.9" stroke="#000" stroke-width="1.0" shape-rendering="crispEdges"/>
<polygon points="94.3,709.9 106.8,707.65 106.8,712.15" fill="#000"/>
<polygon points="260.5,709.9 248,712.15 248,707.65" fill="#000"/>
<text transform="scale(1.0,1)" x="172.4 182.6" y="717.6" font-size="23" text-anchor="middle" fill="#1c1c1c">32</text>
<line x1="71" y1="598.1" x2="281.9" y2="598.1" stroke="#000" stroke-width="1.0" stroke-dasharray="8.5 3.3 1 2.9 1 3" shape-rendering="crispEdges"/>
<line x1="66" y1="598.1" x2="72" y2="598.1" stroke="#000" stroke-width="1.0" shape-rendering="crispEdges"/>
<line x1="276" y1="598.1" x2="282.3" y2="598.1" stroke="#000" stroke-width="1.0" shape-rendering="crispEdges"/>
<line x1="66.5" y1="598.4" x2="66.5" y2="568" stroke="#000" stroke-width="1.0" shape-rendering="crispEdges"/>
<polygon points="66.5,568 68.8,583.5 64.2,583.5" fill="#000"/>
<line x1="281.7" y1="598.4" x2="281.7" y2="568" stroke="#000" stroke-width="1.0" shape-rendering="crispEdges"/>
<polygon points="281.7,568 284,583.5 279.4,583.5" fill="#000"/>
<text transform="scale(0.62,1)" x="107.26" y="558.9" font-size="23.4" text-anchor="middle" fill="#1c1c1c">A</text>
<text transform="scale(0.62,1)" x="453.55" y="558.9" font-size="23.4" text-anchor="middle" fill="#1c1c1c">A</text>
<line x1="260.3" y1="516.3" x2="275.1" y2="496.3" stroke="#222" stroke-width="0.7"/>
<line x1="275.1" y1="496.3" x2="287.7" y2="496.3" stroke="#222" stroke-width="0.7"/>
<polygon points="260.3,516.3 265.67,505.35 269.21,507.96" fill="#000"/>
<text transform="scale(0.88,1)" x="335.68 348.64 357.95 373.3" y="504.2" font-size="23" text-anchor="middle" fill="#1c1c1c">R0.3</text>
</g>
</svg>
</body></html>
